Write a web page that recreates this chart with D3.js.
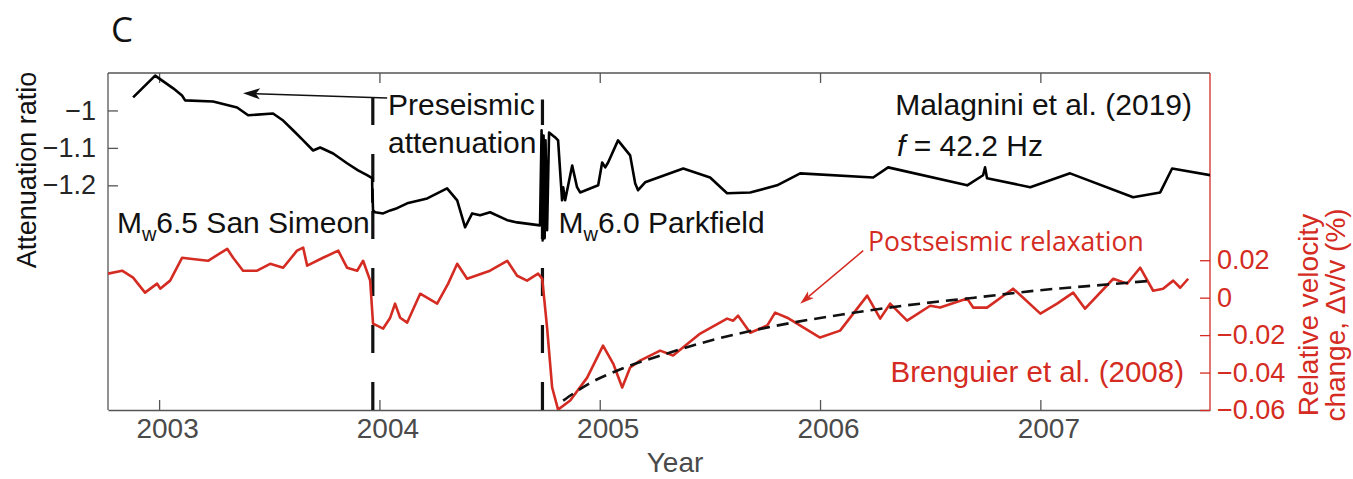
<!DOCTYPE html>
<html>
<head>
<meta charset="utf-8">
<script src="https://cdn.jsdelivr.net/npm/d3@7"></script>
<style>
  body { margin: 0; background: #fff; }
  svg { display: block; }
</style>
</head>
<body>
<svg id="chart" width="1353" height="479"></svg>
<script>
// Attenuation ratio, Malagnini et al. (2019), f = 42.2 Hz
const attYears = [
  2002.882, 2002.982, 2003.064, 2003.104, 2003.118, 2003.245, 2003.354, 2003.404,
  2003.517, 2003.563, 2003.608, 2003.654, 2003.699, 2003.731, 2003.790, 2003.853,
  2003.903, 2003.944, 2003.967, 2003.968, 2003.969, 2003.970, 2003.971, 2003.980,
  2004.017, 2004.049, 2004.080, 2004.126, 2004.217, 2004.307, 2004.353, 2004.389,
  2004.421, 2004.457, 2004.502, 2004.580, 2004.625, 2004.729, 2004.736, 2004.741,
  2004.745, 2004.750, 2004.754, 2004.761, 2004.770, 2004.798, 2004.811, 2004.829,
  2004.834, 2004.843, 2004.875, 2004.897, 2004.911, 2004.993, 2005.011, 2005.025,
  2005.038, 2005.083, 2005.138, 2005.161, 2005.174, 2005.206, 2005.379, 2005.501,
  2005.578, 2005.683, 2005.805, 2005.910, 2006.241, 2006.309, 2006.668, 2006.740,
  2006.749, 2006.758, 2006.954, 2007.135, 2007.421, 2007.544, 2007.598, 2007.771
];
const attValues = [
  -0.965, -0.907, -0.941, -0.960, -0.973, -0.976, -0.992, -1.013,
  -1.008, -1.027, -1.053, -1.080, -1.107, -1.099, -1.115, -1.141,
  -1.160, -1.173, -1.181, -1.245, -1.210, -1.250, -1.267, -1.272,
  -1.275, -1.267, -1.261, -1.248, -1.235, -1.208, -1.240, -1.312,
  -1.275, -1.280, -1.272, -1.293, -1.299, -1.307, -1.053, -1.347,
  -1.067, -1.341, -1.080, -1.320, -1.059, -1.072, -1.080, -1.240,
  -1.205, -1.240, -1.147, -1.205, -1.219, -1.200, -1.139, -1.152,
  -1.139, -1.080, -1.120, -1.195, -1.213, -1.192, -1.155, -1.179,
  -1.221, -1.219, -1.200, -1.168, -1.179, -1.152, -1.200, -1.173,
  -1.152, -1.181, -1.205, -1.168, -1.232, -1.219, -1.155, -1.173
];

// Relative velocity change dv/v (%), Brenguier et al. (2008)
const dvYears = [
  2002.768, 2002.832, 2002.882, 2002.936, 2002.991, 2003.005, 2003.050, 2003.104,
  2003.141, 2003.222, 2003.309, 2003.336, 2003.381, 2003.445, 2003.504, 2003.563,
  2003.626, 2003.654, 2003.672, 2003.744, 2003.813, 2003.853, 2003.899, 2003.926,
  2003.958, 2003.971, 2004.017, 2004.049, 2004.071, 2004.094, 2004.126, 2004.185,
  2004.262, 2004.312, 2004.353, 2004.398, 2004.502, 2004.580, 2004.625, 2004.670,
  2004.720, 2004.739, 2004.761, 2004.784, 2004.811, 2004.866, 2004.943, 2005.015,
  2005.061, 2005.102, 2005.138, 2005.183, 2005.274, 2005.333, 2005.456, 2005.578,
  2005.606, 2005.628, 2005.683, 2005.760, 2005.796, 2005.851, 2006.000, 2006.091,
  2006.214, 2006.273, 2006.318, 2006.395, 2006.500, 2006.545, 2006.668, 2006.695,
  2006.758, 2006.876, 2006.922, 2007.000, 2007.076, 2007.149, 2007.203, 2007.331,
  2007.394, 2007.453, 2007.512, 2007.557, 2007.603, 2007.635, 2007.671
];
const dvValues = [
  0.0128, 0.0144, 0.0107, 0.0027, 0.0075, 0.0048, 0.0091, 0.0213,
  0.0208, 0.0197, 0.0261, 0.0213, 0.0144, 0.0144, 0.0181, 0.0160,
  0.0251, 0.0267, 0.0171, 0.0213, 0.0251, 0.0160, 0.0144, 0.0197,
  0.0091, -0.0139, -0.0165, -0.0107, -0.0032, -0.0107, -0.0133, 0.0021,
  -0.0032, 0.0075, 0.0181, 0.0101, 0.0144, 0.0197, 0.0117, 0.0091,
  0.0128, 0.0101, -0.0160, -0.0480, -0.0598, -0.0549, -0.0427, -0.0256,
  -0.0352, -0.0480, -0.0373, -0.0336, -0.0283, -0.0309, -0.0192, -0.0112,
  -0.0123, -0.0096, -0.0187, -0.0149, -0.0080, -0.0107, -0.0213, -0.0176,
  0.0011, -0.0112, -0.0032, -0.0123, -0.0043, -0.0053, -0.0005, -0.0053,
  -0.0053, 0.0048, 0.0000, -0.0085, -0.0032, 0.0027, -0.0059, 0.0101,
  0.0075, 0.0160, 0.0037, 0.0048, 0.0091, 0.0053, 0.0101
];

// Postseismic relaxation fit after Parkfield
const fitYears = [2004.834, 2004.95, 2005.1, 2005.3, 2005.5, 2005.8, 2006.1, 2006.4, 2006.7, 2007.0, 2007.3, 2007.5];
const fitValues = [-0.055, -0.046, -0.038, -0.030, -0.023, -0.015, -0.009, -0.004, 0.000, 0.004, 0.007, 0.009];

// Earthquake dates (San Simeon, Parkfield)
const quakeYears = [2003.97, 2004.74];
const quakeNames = ["6.5 San Simeon", "6.0 Parkfield"];
const quakeTops = [-0.958, -0.971];

const yearTicks = [2003, 2004, 2005, 2006, 2007];
const attTicks = [-1.2, -1.1, -1];
const dvTicks = [-0.06, -0.04, -0.02, 0, 0.02];

const plotLeft = 108, plotRight = 1210, plotTop = 73, plotBottom = 410;
const RED = "#d42b22";
const AXIS = "#555";
const HELV = "'Liberation Sans', Arial, Helvetica, sans-serif";
const HUMAN = "'Open Sans', 'Noto Sans', sans-serif";

const svg = d3.select("#chart");

const x = d3.scaleLinear().domain([2002.768, 2007.77]).range([plotLeft, plotRight]);
const yAtt = d3.scaleLinear().domain([-1.8, -0.9]).range([plotBottom, plotTop]);
const yDv = d3.scaleLinear().domain([-0.06, 0.12]).range([plotBottom, plotTop]);

const minus = s => s.replace(/^-/, "\u2212");

svg.append("defs").append("clipPath").attr("id", "plotclip")
  .append("rect").attr("x", plotLeft).attr("y", plotTop - 2)
  .attr("width", plotRight - plotLeft).attr("height", plotBottom - plotTop + 2);

// Frame
svg.append("line").attr("x1", plotLeft).attr("x2", plotRight).attr("y1", plotTop).attr("y2", plotTop)
  .attr("stroke", AXIS).attr("stroke-width", 1.3);
svg.append("line").attr("x1", plotLeft).attr("x2", plotLeft).attr("y1", plotTop).attr("y2", plotBottom)
  .attr("stroke", AXIS).attr("stroke-width", 1.3);

// Bottom axis
const gx = svg.append("g").attr("transform", `translate(0,${plotBottom})`)
  .call(d3.axisBottom(x).tickValues(yearTicks).tickFormat(d3.format("d"))
    .tickSizeInner(-10).tickSizeOuter(0).tickPadding(8));
gx.select(".domain").attr("stroke", AXIS).attr("stroke-width", 1.3);
gx.selectAll(".tick line").attr("stroke", AXIS).attr("stroke-width", 1.3);
gx.selectAll(".tick text").attr("fill", "#4a4a4a").attr("dx", 8)
  .style("font-family", HELV).style("font-size", "28px");

// Top axis (ticks only)
const gt = svg.append("g").attr("transform", `translate(0,${plotTop})`)
  .call(d3.axisTop(x).tickValues(yearTicks).tickFormat("").tickSizeInner(-10).tickSizeOuter(0));
gt.select(".domain").remove();
gt.selectAll(".tick line").attr("stroke", AXIS).attr("stroke-width", 1.3);

// Left axis
const gl = svg.append("g").attr("transform", `translate(${plotLeft},0)`)
  .call(d3.axisLeft(yAtt).tickValues(attTicks).tickFormat(d => minus(d3.format("")(d)))
    .tickSizeInner(-10).tickSizeOuter(0).tickPadding(12));
gl.select(".domain").remove();
gl.selectAll(".tick line").attr("stroke", AXIS).attr("stroke-width", 1.3);
gl.selectAll(".tick text").attr("fill", "#262626").style("font-family", HELV).style("font-size", "27px");

// Right axis (red)
const gr = svg.append("g").attr("transform", `translate(${plotRight},0)`)
  .call(d3.axisRight(yDv).tickValues(dvTicks).tickFormat(d => minus(d3.format("")(d)))
    .tickSizeInner(-10).tickSizeOuter(0).tickPadding(7));
gr.select(".domain").remove();
svg.append("line").attr("x1", plotRight).attr("x2", plotRight).attr("y1", plotTop).attr("y2", plotBottom)
  .attr("stroke", RED).attr("stroke-width", 1.3);
gr.selectAll(".tick line").attr("stroke", RED).attr("stroke-width", 1.3);
gr.selectAll(".tick text").attr("fill", RED).style("font-family", HELV).style("font-size", "27px");

// Axis titles
svg.append("text").attr("transform", `translate(36,170) rotate(-90)`)
  .attr("text-anchor", "middle").attr("fill", "#111")
  .style("font-family", HELV).style("font-size", "27px").text("Attenuation ratio");
svg.append("text").attr("transform", `translate(1318,315) rotate(-90)`)
  .attr("text-anchor", "middle").attr("fill", RED)
  .style("font-family", HELV).style("font-size", "28px").text("Relative velocity");
svg.append("text").attr("transform", `translate(1345,315) rotate(-90)`)
  .attr("text-anchor", "middle").attr("fill", RED)
  .style("font-family", HELV).style("font-size", "28px").text("change, \u0394v/v (%)");
svg.append("text").attr("x", 675).attr("y", 472)
  .attr("text-anchor", "middle").attr("fill", "#4a4a4a")
  .style("font-family", HELV).style("font-size", "28px").text("Year");

// Panel letter
svg.append("text").attr("x", 111).attr("y", 42).attr("fill", "#111")
  .style("font-family", HUMAN).style("font-size", "35px").text("C");

const plot = svg.append("g").attr("clip-path", "url(#plotclip)");

// Earthquake dashed markers (drawn from the bottom up)
plot.selectAll("line.quake").data(quakeYears).join("line").attr("class", "quake")
  .attr("x1", d => x(d)).attr("x2", d => x(d))
  .attr("y1", yAtt(-1.8)).attr("y2", (d, i) => yAtt(quakeTops[i]))
  .attr("stroke", "#111").attr("stroke-width", 3.2).attr("stroke-dasharray", "28,29");

// Relative velocity change
const dvLine = d3.line().x((d, i) => x(dvYears[i])).y(d => yDv(d));
plot.append("path").datum(dvValues).attr("d", dvLine)
  .attr("fill", "none").attr("stroke", RED).attr("stroke-width", 2.6)
  .attr("stroke-linejoin", "round");

// Relaxation fit
const fitLine = d3.line().curve(d3.curveMonotoneX).x((d, i) => x(fitYears[i])).y(d => yDv(d));
plot.append("path").datum(fitValues).attr("d", fitLine)
  .attr("fill", "none").attr("stroke", "#111").attr("stroke-width", 2.6)
  .attr("stroke-dasharray", "12,7");

// Attenuation ratio
const attLine = d3.line().x((d, i) => x(attYears[i])).y(d => yAtt(d));
plot.append("path").datum(attValues).attr("d", attLine)
  .attr("fill", "none").attr("stroke", "#000").attr("stroke-width", 2.6)
  .attr("stroke-linejoin", "round");

// Annotation arrows
function arrow(x1, y1, x2, y2, color, w, headLen, headHalf) {
  const ang = Math.atan2(y2 - y1, x2 - x1);
  const bx = x2 - headLen * Math.cos(ang), by = y2 - headLen * Math.sin(ang);
  const nx = -Math.sin(ang), ny = Math.cos(ang);
  const mx = x2 - headLen * 0.75 * Math.cos(ang), my = y2 - headLen * 0.75 * Math.sin(ang);
  svg.append("line").attr("x1", x1).attr("y1", y1).attr("x2", mx).attr("y2", my)
    .attr("stroke", color).attr("stroke-width", w);
  svg.append("path")
    .attr("d", `M${x2},${y2}L${bx + nx * headHalf},${by + ny * headHalf}L${mx},${my}L${bx - nx * headHalf},${by - ny * headHalf}Z`)
    .attr("fill", color);
}
arrow(x(2004.035), yAtt(-0.967), x(2003.381), yAtt(-0.954), "#111", 1.5, 17, 5.5);
arrow(x(2006.196), yDv(0.0251), x(2005.91), yDv(-0.0032), RED, 1.5, 14, 4.5);

// Text annotations
const ann = (tx, ty, txt, color, family, size, anchor) =>
  svg.append("text").attr("x", tx).attr("y", ty).attr("fill", color)
    .attr("text-anchor", anchor || "start")
    .style("font-family", family).style("font-size", size + "px").text(txt);

ann(388, 115, "Preseismic", "#111", HELV, 30);
ann(388, 153, "attenuation", "#111", HELV, 30);
ann(1192, 115, "Malagnini et al. (2019)", "#111", HELV, 30, "end");

const fText = svg.append("text").attr("x", 897).attr("y", 156).attr("fill", "#111")
  .style("font-family", HELV).style("font-size", "30px");
fText.append("tspan").style("font-style", "italic").text("f");
fText.append("tspan").text(" = 42.2 Hz");

quakeYears.forEach((q, i) => {
  const t = svg.append("text").attr("y", 233).attr("fill", "#111")
    .style("font-family", HELV).style("font-size", "30px");
  if (i === 0) t.attr("x", x(q) - 3).attr("text-anchor", "end");
  else t.attr("x", x(q) + 16);
  t.append("tspan").text("M");
  t.append("tspan").attr("dy", 8).style("font-size", "20px").text("w");
  t.append("tspan").attr("dy", -8).text(quakeNames[i]);
});

ann(868, 251, "Postseismic relaxation", RED, HUMAN, 26.5);
ann(1184, 382, "Brenguier et al. (2008)", RED, HELV, 29.5, "end");
</script>
</body>
</html>
